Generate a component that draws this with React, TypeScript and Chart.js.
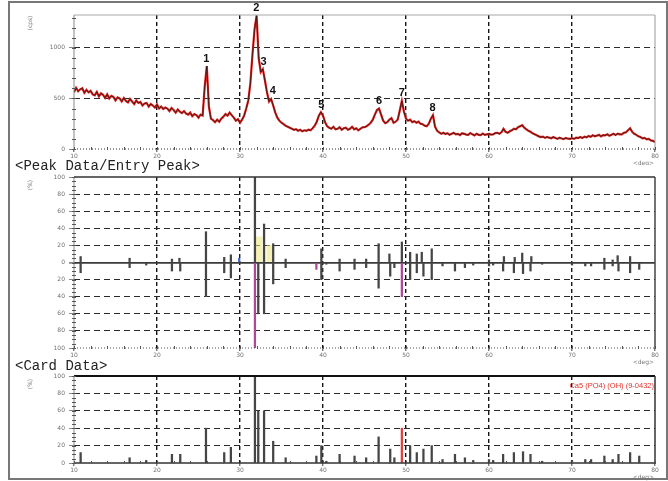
import React, { useEffect, useRef } from "react";
import { Chart, registerables } from "chart.js";

Chart.register(...registerables);

// ---------- data ----------
const X_START = 10;
const X_STEP = 0.25;
// measured XRD intensity (cps), one value every 0.25 deg from 10 to 80 deg 2theta
const intensity: number[] = [
  560, 605, 570, 590, // 10
  600, 555, 585, 560, // 11
  575, 540, 530, 565, // 12
  520, 550, 535, 505, // 13
  540, 500, 525, 515, // 14
  480, 510, 500, 470, // 15
  505, 475, 460, 495, // 16
  470, 445, 480, 455, // 17
  465, 430, 450, 455, // 18
  420, 445, 430, 410, // 19
  440, 400, 420, 395, // 20
  410, 400, 375, 405, // 21
  385, 360, 390, 370, // 22
  355, 375, 350, 340, // 23
  360, 325, 345, 335, // 24
  310, 340, 330, 620, // 25
  820, 420, 300, 285, // 26
  265, 290, 270, 300, // 27
  320, 345, 330, 360, // 28
  335, 310, 280, 295, // 29
  260, 290, 330, 400, // 30
  480, 650, 930, 1180, // 31
  1320, 900, 760, 790, // 32
  680, 560, 470, 495, // 33
  430, 360, 310, 280, // 34
  260, 245, 230, 220, // 35
  210, 200, 190, 195, // 36
  180, 190, 175, 185, // 37
  180, 190, 185, 205, // 38
  230, 270, 330, 365, // 39
  330, 265, 225, 210, // 40
  200, 220, 195, 200, // 41
  215, 190, 205, 210, // 42
  190, 200, 220, 195, // 43
  205, 185, 200, 215, // 44
  215, 225, 240, 260, // 45
  290, 340, 385, 400, // 46
  340, 280, 255, 265, // 47
  290, 305, 260, 270, // 48
  290, 380, 475, 370, // 49
  300, 280, 290, 265, // 50
  275, 260, 270, 250, // 51
  245, 230, 225, 250, // 52
  300, 335, 220, 180, // 53
  165, 150, 160, 148, // 54
  155, 140, 150, 160, // 55
  145, 150, 138, 155, // 56
  150, 142, 140, 158, // 57
  145, 135, 150, 140, // 58
  138, 152, 140, 145, // 59
  150, 142, 145, 158, // 60
  160, 150, 165, 200, // 61
  170, 160, 175, 185, // 62
  200, 195, 215, 225, // 63
  235, 210, 195, 180, // 64
  170, 155, 145, 135, // 65
  125, 118, 122, 110, // 66
  120, 112, 106, 118, // 67
  108, 100, 112, 104, // 68
  98, 110, 102, 100, // 69
  106, 100, 112, 108, // 70
  118, 108, 122, 115, // 71
  128, 120, 135, 126, // 72
  132, 140, 125, 138, // 73
  135, 146, 132, 140, // 74
  150, 138, 152, 145, // 75
  145, 160, 165, 185, // 76
  205, 170, 150, 140, // 77
  125, 118, 105, 110, // 78
  95, 100, 85, 80, // 79
  70, // 80
];

const peakNo = ["1", "2", "3", "4", "5", "6", "7", "8"];
const peakPos = [25.95, 31.95, 32.85, 33.95, 39.8, 46.75, 49.5, 53.2];
const peakCps = [820, 1320, 790, 495, 365, 400, 475, 335];

// entry peaks (relative intensity %)
const entryPos = [10.8, 16.7, 21.8, 22.7, 25.9, 28.1, 28.9, 29.9, 31.8, 32.9, 34.0, 35.5, 39.8, 42.0, 43.8, 45.2, 46.7, 48.0, 49.5, 50.5, 51.3, 51.9, 53.1, 60.0, 61.8, 63.1, 64.0, 65.1, 73.9, 74.9, 75.5, 77.0];
const entryVal = [7, 5, 4, 5, 36, 6, 9, 5, 100, 45, 22, 4, 16, 4, 4, 4, 22, 10, 24, 12, 10, 12, 16, 3, 7, 6, 11, 7, 5, 3, 8, 7];

// card data Ca5(PO4)3(OH) 9-0432 (relative intensity %)
const cardPos = [10.8, 16.7, 18.7, 21.8, 22.8, 25.9, 28.1, 28.9, 31.8, 32.2, 32.9, 34.0, 35.5, 39.2, 39.8, 40.4, 42.0, 43.8, 45.2, 46.7, 48.1, 48.6, 49.5, 50.5, 51.3, 52.1, 53.1, 54.4, 55.9, 57.1, 58.1, 60.0, 60.5, 61.7, 63.0, 64.1, 65.0, 66.4, 70.0, 71.6, 72.3, 73.9, 74.9, 75.6, 77.0, 78.1];
const cardVal = [12, 6, 3, 10, 10, 40, 12, 18, 100, 60, 60, 25, 6, 8, 20, 2, 10, 8, 6, 30, 16, 6, 40, 20, 12, 16, 20, 4, 10, 6, 3, 4, 3, 10, 12, 13, 10, 2, 3, 4, 4, 8, 4, 10, 12, 8];
const markedCard = [31.8, 39.2, 49.5];

const highlightPos = [32.3, 33.6];
const highlightVal = [30, 20];

const xTickValues = [10, 20, 30, 40, 50, 60, 70, 80];
const cpsTicks = [0, 500, 1000];
const mirrorTicks = [-100, -80, -60, -40, -20, 0, 20, 40, 60, 80, 100];
const pctTicks = [0, 20, 40, 60, 80, 100];
const CARD_NAME = "Ca5 (PO4) (OH) (9-0432)";

// ---------- helpers ----------
const W = 668;
const tickFont = { size: 6, family: "'DejaVu Sans', sans-serif" };
const TICK_COLOR = "#707070";
const CLEAR = "rgba(0,0,0,0)";
const STICK = "#454545";

function xScale(h: number) {
  return {
    type: "linear",
    min: 10,
    max: 80,
    offset: false,
    afterBuildTicks: (s: any) => {
      s.ticks = xTickValues.map((v) => ({ value: v }));
    },
    afterFit: (s: any) => {
      s.height = h;
    },
    grid: {
      offset: false,
      color: (c: any) =>
        c.tick && (c.tick.value === 10 || c.tick.value === 80) ? CLEAR : "#151515",
      lineWidth: 1.4,
      tickLength: 3,
      tickColor: "#777",
    },
    border: { display: false, dash: [4, 3] },
    ticks: {
      font: tickFont,
      color: TICK_COLOR,
      padding: 1,
      maxRotation: 0,
      autoSkip: false,
      callback: (v: any) => String(v),
    },
  };
}

function yScale(min: number, max: number, ticks: number[], zeroSolid: boolean) {
  const isZero = (c: any) => zeroSolid && c.tick && c.tick.value === 0;
  return {
    type: "linear",
    min,
    max,
    afterBuildTicks: (s: any) => {
      s.ticks = ticks.map((v) => ({ value: v }));
    },
    afterFit: (s: any) => {
      s.width = 74;
    },
    grid: {
      color: (c: any) =>
        c.tick && (c.tick.value === min || c.tick.value === max)
          ? CLEAR
          : isZero(c)
          ? "#3a3a3a"
          : "#2a2a2a",
      lineWidth: (c: any) => (isZero(c) ? 1.8 : 1),
      tickLength: 5,
      tickColor: "#888",
    },
    border: { display: false, dash: (c: any) => (isZero(c) ? [] : [6, 4]) },
    ticks: {
      font: tickFont,
      color: TICK_COLOR,
      padding: 4,
      callback: (v: any) => String(Math.abs(Number(v))),
    },
  };
}

type Side = { color: string; width: number; dash?: number[] };
function framePlugin(o: {
  top: Side;
  right: Side;
  bottom: Side;
  left: Side;
  yMinor: number;
  unitY: string;
}) {
  return {
    id: "frame",
    afterDatasetsDraw(chart: any) {
      const { ctx, chartArea: a, scales } = chart;
      ctx.save();
      const line = (s: Side, x1: number, y1: number, x2: number, y2: number) => {
        ctx.beginPath();
        ctx.strokeStyle = s.color;
        ctx.lineWidth = s.width;
        ctx.setLineDash(s.dash || []);
        ctx.moveTo(x1, y1);
        ctx.lineTo(x2, y2);
        ctx.stroke();
      };
      line(o.top, a.left, a.top, a.right, a.top);
      line(o.right, a.right, a.top, a.right, a.bottom);
      line(o.bottom, a.left, a.bottom, a.right, a.bottom);
      line(o.left, a.left, a.top, a.left, a.bottom);
      // minor ticks
      ctx.setLineDash([]);
      ctx.strokeStyle = "#555";
      ctx.lineWidth = 1;
      ctx.beginPath();
      const y = scales.y;
      for (let v = y.min; v <= y.max + 1e-6; v += o.yMinor) {
        const py = Math.round(y.getPixelForValue(v)) + 0.5;
        ctx.moveTo(a.left - 2, py);
        ctx.lineTo(a.left + 2, py);
      }
      const x = scales.x;
      for (let v = x.min; v <= x.max + 1e-6; v += 2) {
        const px = Math.round(x.getPixelForValue(v)) + 0.5;
        ctx.moveTo(px, a.bottom - 2);
        ctx.lineTo(px, a.bottom + 1);
      }
      ctx.stroke();
      // units
      ctx.fillStyle = "#777";
      ctx.font = "6px 'DejaVu Sans', sans-serif";
      ctx.textAlign = "right";
      ctx.textBaseline = "middle";
      ctx.fillText("<deg>", a.right - 1, a.bottom + 14);
      ctx.translate(a.left - 44, a.top + 8);
      ctx.rotate(-Math.PI / 2);
      ctx.textAlign = "center";
      ctx.fillText(o.unitY, 0, 0);
      ctx.restore();
    },
  };
}

const peakLabelPlugin = {
  id: "peakLabels",
  afterDatasetsDraw(chart: any) {
    const { ctx, scales } = chart;
    ctx.save();
    ctx.fillStyle = "#111";
    ctx.font = "bold 11px 'Liberation Sans', Arial, sans-serif";
    ctx.textAlign = "center";
    ctx.textBaseline = "bottom";
    peakNo.forEach((t, i) => {
      ctx.fillText(
        t,
        scales.x.getPixelForValue(peakPos[i]),
        scales.y.getPixelForValue(peakCps[i]) - 2
      );
    });
    ctx.restore();
  },
};

const cardNamePlugin = {
  id: "cardName",
  afterDatasetsDraw(chart: any) {
    const { ctx, chartArea: a } = chart;
    ctx.save();
    ctx.fillStyle = "#e5302a";
    ctx.font = "7.5px 'Liberation Sans', Arial, sans-serif";
    ctx.textAlign = "right";
    ctx.textBaseline = "alphabetic";
    ctx.fillText(CARD_NAME, a.right - 1, a.top + 12);
    ctx.restore();
  },
};

const baseOptions = (padTop: number) => ({
  animation: false,
  responsive: false,
  events: [],
  layout: { padding: { left: 0, right: 13, top: padTop, bottom: 0 } },
  plugins: { legend: { display: false }, tooltip: { enabled: false } },
});

function topConfig(): any {
  const pts = () => intensity.map((v, i) => ({ x: X_START + i * X_STEP, y: v }));
  return {
    type: "line",
    data: {
      datasets: [
        { data: pts(), borderColor: "#161616", borderWidth: 0.7, pointRadius: 0, tension: 0, order: 0 },
        { data: pts(), borderColor: "#e0201c", borderWidth: 2.2, pointRadius: 0, tension: 0, order: 1 },
      ],
    },
    options: {
      ...baseOptions(15),
      scales: { x: xScale(16), y: yScale(0, 1325, cpsTicks, false) },
    },
    plugins: [
      framePlugin({
        top: { color: "#a8a8a8", width: 1 },
        right: { color: "#999", width: 1 },
        bottom: { color: "#333", width: 1, dash: [1, 2] },
        left: { color: "#888", width: 1 },
        yMinor: 100,
        unitY: "(cps)",
      }),
      peakLabelPlugin,
    ],
  };
}

function midConfig(): any {
  return {
    type: "bar",
    data: {
      datasets: [
        {
          data: entryPos.map((x, i) => ({ x, y: entryVal[i] })),
          backgroundColor: entryPos.map((p) => (p === 29.9 ? "#4a62c8" : STICK)),
          barThickness: 1.6,
          grouped: false,
          order: 1,
        },
        {
          data: cardPos.map((x, i) => ({ x, y: -cardVal[i] })),
          backgroundColor: cardPos.map((p) => (markedCard.includes(p) ? "#b04896" : STICK)),
          barThickness: 1.6,
          grouped: false,
          order: 1,
        },
        {
          data: highlightPos.map((x, i) => ({ x, y: highlightVal[i] })),
          backgroundColor: "rgba(236,230,120,0.55)",
          barThickness: 6,
          grouped: false,
          order: 5,
        },
      ],
    },
    options: {
      ...baseOptions(12),
      scales: { x: xScale(20), y: yScale(-100, 100, mirrorTicks, true) },
    },
    plugins: [
      framePlugin({
        top: { color: "#333", width: 1.5 },
        right: { color: "#444", width: 1.5 },
        bottom: { color: "#555", width: 1, dash: [1, 2] },
        left: { color: "#888", width: 1 },
        yMinor: 5,
        unitY: "(%)",
      }),
    ],
  };
}

function botConfig(): any {
  return {
    type: "bar",
    data: {
      datasets: [
        {
          data: cardPos.map((x, i) => ({ x, y: cardVal[i] })),
          backgroundColor: cardPos.map((p) => (p === 49.5 ? "#e04040" : STICK)),
          barThickness: 1.6,
          grouped: false,
        },
      ],
    },
    options: {
      ...baseOptions(8),
      scales: { x: xScale(18), y: yScale(0, 100, pctTicks, false) },
    },
    plugins: [
      framePlugin({
        top: { color: "#111", width: 2 },
        right: { color: "#333", width: 1.5 },
        bottom: { color: "#333", width: 1.5 },
        left: { color: "#888", width: 1 },
        yMinor: 5,
        unitY: "(%)",
      }),
      cardNamePlugin,
    ],
  };
}

export default function App() {
  const r1 = useRef<HTMLCanvasElement>(null);
  const r2 = useRef<HTMLCanvasElement>(null);
  const r3 = useRef<HTMLCanvasElement>(null);

  useEffect(() => {
    Chart.defaults.font.family = "'DejaVu Sans', sans-serif";
    const charts = [
      new Chart(r1.current as HTMLCanvasElement, topConfig()),
      new Chart(r2.current as HTMLCanvasElement, midConfig()),
      new Chart(r3.current as HTMLCanvasElement, botConfig()),
    ];
    return () => charts.forEach((c) => c.destroy());
  }, []);

  const canvasStyle = (top: number, h: number): React.CSSProperties => ({
    position: "absolute",
    left: 0,
    top,
    width: W,
    height: h,
  });
  const titleStyle = (top: number): React.CSSProperties => ({
    position: "absolute",
    left: 15,
    top,
    font: "14px 'Liberation Mono', 'DejaVu Sans Mono', monospace",
    lineHeight: "14px",
    color: "#222",
    whiteSpace: "pre",
  });

  return (
    <div
      style={{
        position: "absolute",
        left: 0,
        top: 0,
        width: W,
        height: 481,
        background: "#fff",
        overflow: "hidden",
      }}
    >
      <div
        style={{
          position: "absolute",
          left: 8,
          top: 1,
          width: 660,
          height: 479,
          boxSizing: "border-box",
          border: "2px solid #777",
        }}
      />
      <canvas ref={r1} width={W} height={165} style={canvasStyle(0, 165)} />
      <canvas ref={r2} width={W} height={203} style={canvasStyle(165, 203)} />
      <canvas ref={r3} width={W} height={113} style={canvasStyle(368, 113)} />
      <div style={titleStyle(159)}>{"<Peak Data/Entry Peak>"}</div>
      <div style={titleStyle(359)}>{"<Card Data>"}</div>
    </div>
  );
}
